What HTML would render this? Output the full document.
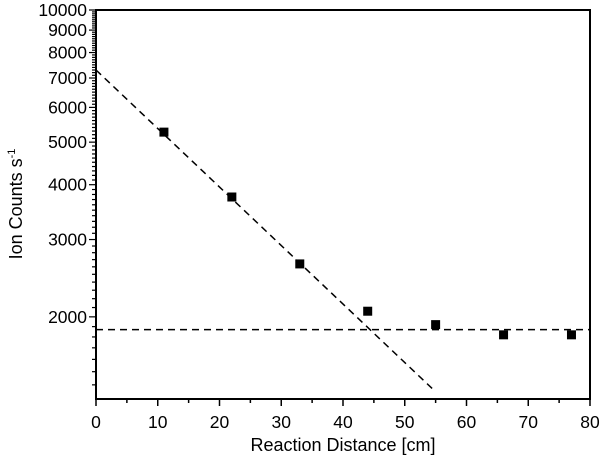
<!DOCTYPE html>
<html><head><meta charset="utf-8"><style>
body{margin:0;background:#fff;}
svg text{font-family:"Liberation Sans",Arial,sans-serif;fill:#000;}
</style></head><body>
<svg id="chart" width="600" height="463" viewBox="0 0 600 463">
<g id="ticks"></g>
<g id="marks"></g>
<text x="343" y="451" font-size="18" text-anchor="middle">Reaction Distance [cm]</text>
<text transform="translate(22,204) rotate(-90)" font-size="18" text-anchor="middle">Ion Counts s<tspan font-size="11" dy="-7">-1</tspan></text>
</svg>
<script>
const xData=[11,22,33,44,55,66,77];
const yData=[5270,3750,2640,2060,1920,1820,1820];
const xTicks=[0,10,20,30,40,50,60,70,80];
const yTicks=[2000,3000,4000,5000,6000,7000,8000,9000,10000];
const fitDecay=[[0,7300],[55,1350]];
const fitFlat=[[0,1870],[80,1870]];
const X0=96,X1=590,YT=10,YB=399,K=439;
const yMin=10000/Math.pow(10,(YB-YT)/K);
const sx=v=>X0+(v-0)/(80-0)*(X1-X0);
const sy=v=>YT+Math.log10(10000/v)*K;
const NS="http://www.w3.org/2000/svg";
function mk(tag,attrs,parent){const e=document.createElementNS(NS,tag);for(const k in attrs)e.setAttribute(k,attrs[k]);parent.appendChild(e);return e;}
const tg=document.getElementById('ticks'),mg=document.getElementById('marks');
let f=mk('rect',{x:X0,y:YT,width:X1-X0,height:YB-YT,fill:'none',stroke:'#000','stroke-width':2},tg);


for(let v=0;v<=80;v+=5){
 const major=v%10===0;
 let t=mk('line',{x1:sx(v),x2:sx(v),y1:YB,y2:YB+(major?7:4),stroke:'#000','stroke-width':1.5},tg);
 
 
}
xTicks.forEach(v=>{let t=mk('text',{x:sx(v),y:YB+29,'font-size':17.5,'text-anchor':'middle'},tg);t.textContent=v;
 
 });
for(let v=1400;v<=10000;v+=100){
 if(v<yMin)continue;
 const major=v%1000===0;
 let t=mk('line',{x1:X0-(major?7:4),x2:X0,y1:sy(v),y2:sy(v),stroke:'#000','stroke-width':1.2},tg);
 
 
}
yTicks.forEach(v=>{let t=mk('text',{x:X0-9,y:sy(v)+6,'font-size':17.5,'text-anchor':'end'},tg);t.textContent=v;
 
 });
let l1=mk('line',{x1:sx(fitDecay[0][0]),y1:sy(fitDecay[0][1]),x2:sx(fitDecay[1][0]),y2:sy(fitDecay[1][1]),stroke:'#000','stroke-width':1.5,'stroke-dasharray':'7,5'},mg);


let l2=mk('line',{x1:sx(fitFlat[0][0]),y1:sy(fitFlat[0][1]),x2:sx(fitFlat[1][0]),y2:sy(fitFlat[1][1]),stroke:'#000','stroke-width':1.5,'stroke-dasharray':'7,5'},mg);


xData.forEach((x,i)=>{let p=mk('rect',{x:sx(x)-4.5,y:sy(yData[i])-4.5,width:9,height:9,fill:'#000'},mg);
 
 });
</script>
</body></html>
